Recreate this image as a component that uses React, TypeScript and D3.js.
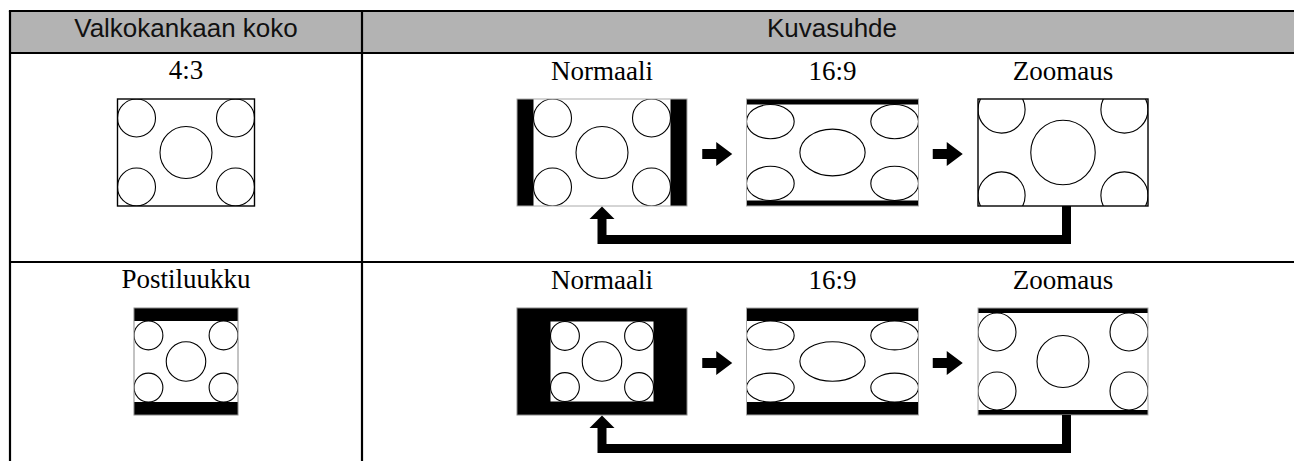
import React from 'react';
import * as d3 from 'd3';

// table texts
const headerLabels = ['Valkokankaan koko', 'Kuvasuhde'];
const screenLabels = ['4:3', 'Postiluukku'];
const modeLabels = ['Normaali', '16:9', 'Zoomaus'];

type Panel = {
  fw: number; // frame width
  cw: number; // picture width
  ch: number; // picture height
  sx: number; // circle scale x
  sy: number; // circle scale y
  fill: string; // frame (bar) colour
  stroke: string;
};

// picture in each cell: [screen, Normaali, 16:9, Zoomaus] per row
const row43: Panel[] = [
  { fw: 137, cw: 137, ch: 107, sx: 1, sy: 1, fill: '#fff', stroke: '#000' },
  { fw: 170, cw: 137, ch: 107, sx: 1, sy: 1, fill: '#000', stroke: '#aaa' },
  { fw: 172, cw: 172, ch: 96, sx: 1.255, sy: 0.9, fill: '#000', stroke: '#aaa' },
  { fw: 170, cw: 170, ch: 133, sx: 1.24, sy: 1.24, fill: '#fff', stroke: '#000' },
];
const rowLetterbox: Panel[] = [
  { fw: 104, cw: 104, ch: 81, sx: 0.76, sy: 0.76, fill: '#000', stroke: '#888' },
  { fw: 170, cw: 103, ch: 80, sx: 0.76, sy: 0.76, fill: '#000', stroke: '#888' },
  { fw: 172, cw: 172, ch: 81, sx: 1.255, sy: 0.76, fill: '#000', stroke: '#aaa' },
  { fw: 170, cw: 170, ch: 97, sx: 1, sy: 1, fill: '#000', stroke: '#aaa' },
];
const rows = [row43, rowLetterbox];

// layout
const W = 1294;
const H = 461;
const tableLeft = 10;
const tableRight = 1302;
const headerTop = 11;
const headerBottom = 53;
const colDivider = 362;
const rowHeight = 209;
const frameH = 107;
const frameOffset = 46;
const cornerR = 19;
const centerR = 26;

const rowTop = d3.scaleOrdinal<string, number>()
  .domain(screenLabels)
  .range(screenLabels.map((_, i) => headerBottom + i * rowHeight));

const modeX = d3.scalePoint<string>()
  .domain(modeLabels)
  .range([602, 1063]);

const screenX = (tableLeft + colDivider) / 2;

function Picture({ id, cx, top, p }: { id: string; cx: number; top: number; p: Panel }) {
  const fx = cx - p.fw / 2;
  const cy = top + frameH / 2;
  const px = cx - p.cw / 2;
  const py = cy - p.ch / 2;
  const rc = { rx: cornerR * p.sx, ry: cornerR * p.sy };
  const corners = [
    [px + rc.rx, py + rc.ry],
    [px + p.cw - rc.rx, py + rc.ry],
    [px + rc.rx, py + p.ch - rc.ry],
    [px + p.cw - rc.rx, py + p.ch - rc.ry],
  ];
  return (
    <g>
      <defs>
        <clipPath id={id}>
          <rect x={fx} y={top} width={p.fw} height={frameH} />
        </clipPath>
      </defs>
      <rect x={fx} y={top} width={p.fw} height={frameH} fill={p.fill} />
      <g clipPath={`url(#${id})`}>
        <rect x={px} y={py} width={p.cw} height={p.ch} fill="#fff" />
        {corners.map(([x, y], i) => (
          <ellipse key={i} cx={x} cy={y} rx={rc.rx} ry={rc.ry} fill="none" stroke="#000" strokeWidth={1.1} />
        ))}
        <ellipse cx={cx} cy={py + p.ch / 2} rx={centerR * p.sx} ry={centerR * p.sy} fill="none" stroke="#000" strokeWidth={1.1} />
      </g>
      <rect x={fx} y={top} width={p.fw} height={frameH} fill="none" stroke={p.stroke} strokeWidth={p.stroke === '#000' ? 1.4 : 1} />
    </g>
  );
}

function rightArrow(cx: number, cy: number) {
  const p = d3.path();
  p.moveTo(cx - 15, cy - 5);
  p.lineTo(cx - 1, cy - 5);
  p.lineTo(cx - 1, cy - 12);
  p.lineTo(cx + 15, cy);
  p.lineTo(cx - 1, cy + 12);
  p.lineTo(cx - 1, cy + 5);
  p.lineTo(cx - 15, cy + 5);
  p.closePath();
  return p.toString();
}

function App() {
  const line = d3.line();
  return (
    <svg width={W} height={H} style={{ position: 'absolute', left: 0, top: 0, background: '#fff' }}>
      {/* header */}
      <rect x={tableLeft} y={headerTop} width={tableRight - tableLeft} height={headerBottom - headerTop} fill="#b3b3b3" />
      {headerLabels.map((t, i) => (
        <text
          key={t}
          x={i === 0 ? screenX : (colDivider + tableRight) / 2}
          y={36.5}
          textAnchor="middle"
          fontFamily="'Liberation Sans', Arial, sans-serif"
          fontSize={26}
          fill="#111"
        >
          {t}
        </text>
      ))}

      {screenLabels.map((s, r) => {
        const top = rowTop(s);
        const fTop = top + frameOffset;
        const fBottom = fTop + frameH;
        const panels = rows[r];
        const zx = modeX('Zoomaus')! + 3.5;
        const nx = modeX('Normaali')!;
        const ly = fBottom + 33.5;
        return (
          <g key={s}>
            <text x={screenX} y={top + 26} textAnchor="middle" fontFamily="'Liberation Serif', 'Times New Roman', serif" fontSize={27} fill="#000">
              {s}
            </text>
            <Picture id={`p${r}s`} cx={screenX} top={fTop} p={panels[0]} />
            {modeLabels.map((m, i) => (
              <g key={m}>
                <text x={modeX(m)} y={top + 27} textAnchor="middle" fontFamily="'Liberation Serif', 'Times New Roman', serif" fontSize={27} fill="#000">
                  {m}
                </text>
                <Picture id={`p${r}m${i}`} cx={modeX(m)!} top={fTop} p={panels[i + 1]} />
              </g>
            ))}
            {modeLabels.slice(1).map((m, i) => (
              <path key={m} d={rightArrow((modeX(modeLabels[i])! + modeX(m)!) / 2, fTop + frameH / 2 + 1.5)} fill="#000" />
            ))}
            <path
              d={line([[zx, fBottom], [zx, ly], [nx, ly], [nx, fBottom + 12]]) ?? ''}
              fill="none"
              stroke="#000"
              strokeWidth={9}
              strokeLinejoin="miter"
            />
            <path d={`M${nx},${fBottom + 0.5}L${nx + 12.5},${fBottom + 13}L${nx - 12.5},${fBottom + 13}Z`} fill="#000" />
          </g>
        );
      })}

      {/* grid lines */}
      <g stroke="#000" strokeWidth={2.2}>
        <line x1={tableLeft - 1.1} x2={tableRight} y1={headerTop} y2={headerTop} />
        <line x1={tableLeft} x2={tableRight} y1={headerBottom} y2={headerBottom} />
        <line x1={tableLeft} x2={tableRight} y1={rowTop(screenLabels[1])} y2={rowTop(screenLabels[1])} />
        <line x1={tableLeft} x2={tableLeft} y1={headerTop} y2={H + 5} />
        <line x1={colDivider} x2={colDivider} y1={headerTop} y2={H + 5} />
      </g>
    </svg>
  );
}

export default App;
